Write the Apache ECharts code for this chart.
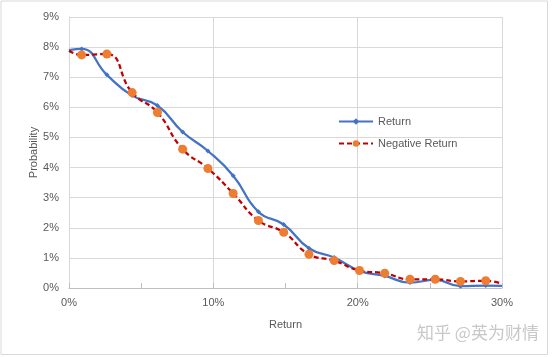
<!DOCTYPE html>
<html>
<head>
<meta charset="utf-8">
<script src="https://cdn.jsdelivr.net/npm/echarts@6/dist/echarts.min.js"></script>
<style>
html,body{margin:0;padding:0;background:#fff;}
#chart{width:552px;height:357px;}
</style>
</head>
<body>
<div id="chart"></div>
<script>
// Return (%) positions of the points
const xPoints = [0, 0.875, 2.625, 4.375, 6.125, 7.875, 9.625, 11.375, 13.125, 14.875, 16.625, 18.375, 20.125, 21.875, 23.625, 25.375, 27.125, 28.875, 30];
// Probability (%) of "Return"
const returnProb = [7.90, 7.94, 7.08, 6.39, 6.06, 5.18, 4.55, 3.73, 2.53, 2.11, 1.32, 1.01, 0.57, 0.40, 0.18, 0.27, 0.06, 0.08, 0.07];
// Probability (%) of "Negative Return"
const negReturnProb = [7.88, 7.74, 7.77, 6.49, 5.83, 4.61, 3.97, 3.14, 2.24, 1.85, 1.12, 0.91, 0.58, 0.49, 0.29, 0.29, 0.22, 0.24, 0.14];
const seriesNames = ['Return', 'Negative Return'];
const xAxisTitle = 'Return';
const yAxisTitle = 'Probability';
const watermark = '知乎 @英为财情';

function build(vals) {
  return xPoints.map((x, i) => {
    const item = { value: [x, vals[i]] };
    if (i === 0 || i === xPoints.length - 1) item.symbol = 'none';
    return item;
  });
}

const chart = echarts.init(document.getElementById('chart'), null, { renderer: 'canvas' });
const font = 'Liberation Sans, Arial, sans-serif';
chart.setOption({
  animation: false,
  backgroundColor: '#fff',
  grid: { left: 69, right: 50, top: 17, bottom: 69, containLabel: false },
  legend: {
    orient: 'vertical',
    left: 333,
    top: 111,
    padding: 5,
    itemWidth: 34,
    itemHeight: 8,
    itemGap: 11,
    textStyle: { fontFamily: font, fontSize: 11, color: '#595959' },
    data: seriesNames
  },
  xAxis: {
    type: 'value',
    min: 0, max: 30, interval: 10,
    name: xAxisTitle,
    nameLocation: 'middle',
    nameGap: 31,
    nameMoveOverlap: false,
    nameTextStyle: { fontFamily: font, fontSize: 11, color: '#595959' },
    axisLine: { show: true, lineStyle: { color: '#bfbfbf', width: 1 } },
    axisTick: { show: true, inside: true, length: 5, lineStyle: { color: '#bfbfbf' } },
    minorTick: { show: true, splitNumber: 2, length: 5, lineStyle: { color: '#bfbfbf' } },
    axisLabel: { formatter: '{value}%', fontFamily: font, fontSize: 11, color: '#595959', margin: 9 },
    splitLine: { show: true, lineStyle: { color: '#d9d9d9', width: 1 } }
  },
  yAxis: {
    type: 'value',
    min: 0, max: 9, interval: 1,
    name: yAxisTitle,
    nameLocation: 'middle',
    nameGap: 30,
    nameMoveOverlap: false,
    nameRotate: 90,
    nameTextStyle: { fontFamily: font, fontSize: 11, color: '#595959' },
    axisLine: { show: true, lineStyle: { color: '#d9d9d9' } },
    axisTick: { show: false },
    axisLabel: { formatter: '{value}%', fontFamily: font, fontSize: 11, color: '#595959', margin: 10 },
    splitLine: { show: true, lineStyle: { color: '#d9d9d9', width: 1 } }
  },
  series: [
    {
      name: seriesNames[0],
      type: 'line',
      smooth: 0.5,
      data: build(returnProb),
      symbol: 'diamond',
      symbolSize: 5,
      showSymbol: true,
      clip: true,
      lineStyle: { color: '#4472c4', width: 2.25 },
      itemStyle: { color: '#4472c4' }
    },
    {
      name: seriesNames[1],
      type: 'line',
      smooth: 0.5,
      data: build(negReturnProb),
      symbol: 'circle',
      symbolSize: 9,
      showSymbol: true,
      clip: true,
      lineStyle: { color: '#c00000', width: 2.25, type: [5, 3] },
      itemStyle: { color: '#ed7d31' }
    }
  ],
  graphic: [
    {
      type: 'rect',
      shape: { x: 1, y: 1, width: 546.5, height: 353.5 },
      style: { fill: 'none', stroke: '#d9d9d9', lineWidth: 1 },
      silent: true
    },
    {
      type: 'text',
      left: 417,
      top: 324,
      style: { text: watermark, fontFamily: 'Noto Sans CJK SC, sans-serif', fontSize: 17, fill: '#c8c8c8' },
      silent: true
    }
  ]
});
</script>
</body>
</html>
